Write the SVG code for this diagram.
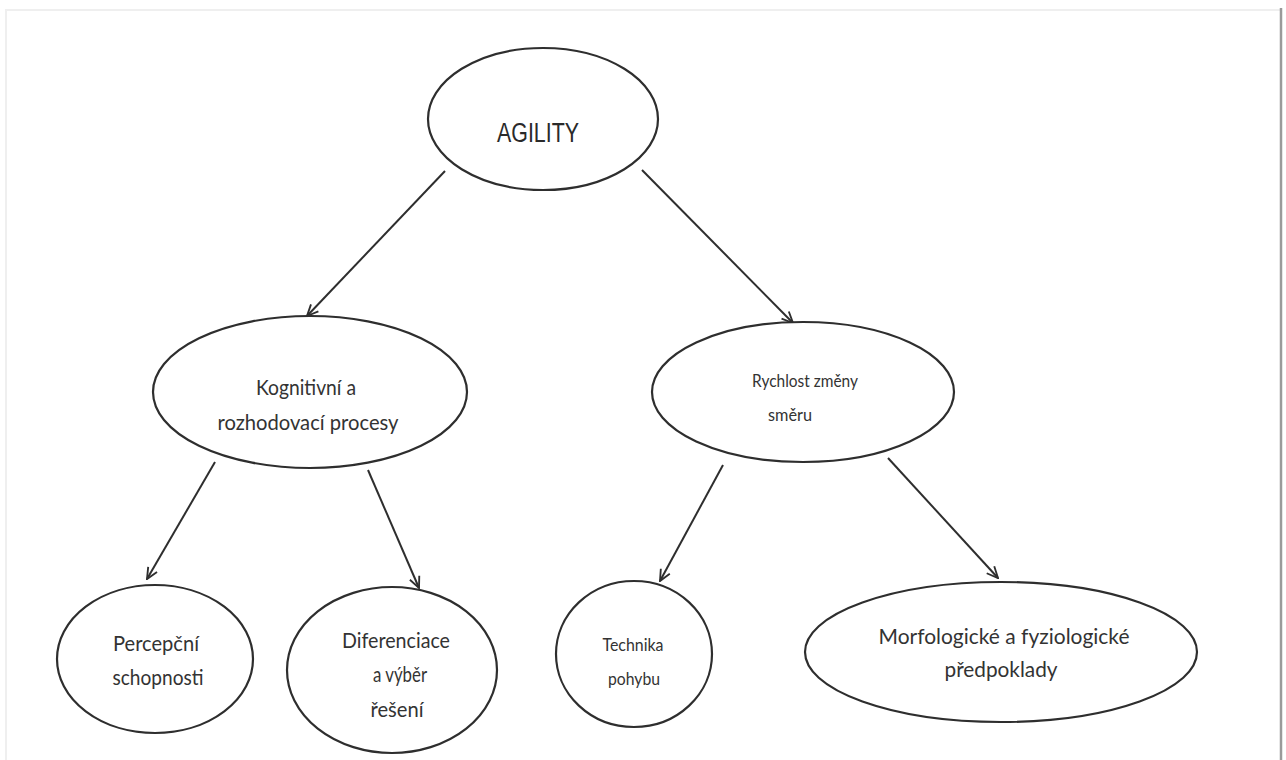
<svg xmlns="http://www.w3.org/2000/svg" width="1286" height="760" viewBox="0 0 1286 760">
<defs>
<style>
.node ellipse{fill:#fff;stroke:#2e2e2e;stroke-width:2.2}
.lbl{font-family:Lato,"Open Sans","Liberation Sans",sans-serif;font-size:21px;fill:#333;text-anchor:middle}
.sm{font-size:18px}
.ttl{font-family:"Liberation Sans",Arial,sans-serif;font-size:27px;fill:#2a2a2a;text-anchor:middle}
.edge{stroke:#2e2e2e;stroke-width:2;fill:none;marker-end:url(#ah)}
</style>
<marker id="ah" viewBox="0 0 14 14" refX="13" refY="7" markerWidth="13" markerHeight="13" markerUnits="userSpaceOnUse" orient="auto">
<path d="M1,1.5 L13,7 L1,12.5" fill="none" stroke="#2e2e2e" stroke-width="2"/>
</marker>
</defs>
<rect width="1286" height="760" fill="#fff"/>
<rect x="6" y="10" width="1275" height="760" fill="none" stroke="#efefef" stroke-width="2"/>
<line x1="1281" y1="8" x2="1281" y2="760" stroke="#9a9a9a" stroke-width="2.5"/>

<g id="connectors">
<line class="edge" x1="445" y1="171" x2="307" y2="316"/>
<line class="edge" x1="642" y1="170" x2="793" y2="323"/>
<line class="edge" x1="215" y1="462" x2="147" y2="579"/>
<line class="edge" x1="368" y1="470" x2="419" y2="588"/>
<line class="edge" x1="723" y1="465" x2="660" y2="581"/>
<line class="edge" x1="888" y1="458" x2="998" y2="578"/>
</g>

<g id="agility" class="node">
<ellipse cx="543" cy="119" rx="115" ry="71"/>
<text class="ttl" x="538" y="142" textLength="82" lengthAdjust="spacingAndGlyphs">AGILITY</text>
</g>
<g id="kognitivni" class="node">
<ellipse cx="310" cy="392" rx="157" ry="76"/>
<text class="lbl" x="306" y="395" textLength="100" lengthAdjust="spacingAndGlyphs">Kognitivní a</text>
<text class="lbl" x="308" y="430" textLength="181" lengthAdjust="spacingAndGlyphs">rozhodovací procesy</text>
</g>
<g id="rychlost" class="node">
<ellipse cx="803" cy="392" rx="151" ry="70"/>
<text class="lbl sm" x="805" y="387" textLength="106" lengthAdjust="spacingAndGlyphs">Rychlost změny</text>
<text class="lbl sm" x="790" y="421" textLength="44" lengthAdjust="spacingAndGlyphs">směru</text>
</g>
<g id="percepcni" class="node">
<ellipse cx="155" cy="659" rx="98" ry="74"/>
<text class="lbl" x="156" y="651" textLength="86" lengthAdjust="spacingAndGlyphs">Percepční</text>
<text class="lbl" x="158" y="685" textLength="91" lengthAdjust="spacingAndGlyphs">schopnosti</text>
</g>
<g id="diferenciace" class="node">
<ellipse cx="392" cy="670" rx="105" ry="83"/>
<text class="lbl" x="396" y="648" textLength="108" lengthAdjust="spacingAndGlyphs">Diferenciace</text>
<text class="lbl" x="400" y="682" textLength="54" lengthAdjust="spacingAndGlyphs">a výběr</text>
<text class="lbl" x="397" y="717" textLength="53" lengthAdjust="spacingAndGlyphs">řešení</text>
</g>
<g id="technika" class="node">
<ellipse cx="634" cy="654" rx="78" ry="73"/>
<text class="lbl sm" x="633" y="651" textLength="61" lengthAdjust="spacingAndGlyphs">Technika</text>
<text class="lbl sm" x="634" y="685" textLength="52" lengthAdjust="spacingAndGlyphs">pohybu</text>
</g>
<g id="morfologicke" class="node">
<ellipse cx="1001" cy="652" rx="196" ry="70"/>
<text class="lbl" x="1004" y="644" textLength="251" lengthAdjust="spacingAndGlyphs">Morfologické a fyziologické</text>
<text class="lbl" x="1001" y="677" textLength="113" lengthAdjust="spacingAndGlyphs">předpoklady</text>
</g>
</svg>
